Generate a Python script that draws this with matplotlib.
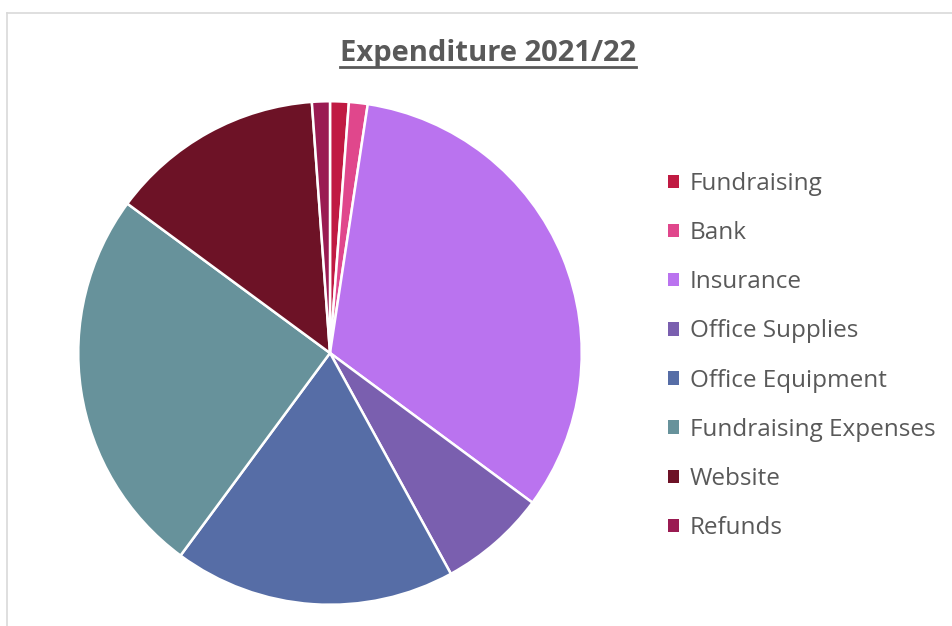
import matplotlib
matplotlib.use("Agg")
import matplotlib.pyplot as plt
from matplotlib.lines import Line2D

categories = ["Fundraising", "Bank", "Insurance", "Office Supplies",
              "Office Equipment", "Fundraising Expenses", "Website", "Refunds"]
shares = [1.2, 1.2, 32.75, 6.9, 18.1, 25.0, 13.75, 1.15]
colours = ["#C01A42", "#E0478C", "#BA73EF", "#7A5FAF",
           "#566DA6", "#67929B", "#6D1226", "#9A1B52"]

plt.rcParams["font.family"] = ["Open Sans", "DejaVu Sans"]

W, H = 953, 626
fig = plt.figure(figsize=(W / 100, H / 100), dpi=100)

# pie area: centre (330, 353), radius 253 px
cx, cy, r = 330, 353, 253
ax = fig.add_axes([(cx - r) / W, (H - cy - r) / H, 2 * r / W, 2 * r / H])
wedges, _ = ax.pie(shares, colors=colours, startangle=90, counterclock=False,
                   radius=1.0,
                   wedgeprops=dict(edgecolor="white", linewidth=1.8))
ax.set_xlim(-1.005, 1.005)
ax.set_ylim(-1.005, 1.005)
ax.set_aspect("equal")
ax.axis("off")

# chart frame (top and left edges)
fig.add_artist(Line2D([7.5 / W, 7.5 / W], [0, 1 - 12.5 / H], color="#d9d9d9",
                      lw=1.2, transform=fig.transFigure))
fig.add_artist(Line2D([7.5 / W, 1], [1 - 12.5 / H, 1 - 12.5 / H], color="#d9d9d9",
                      lw=1.2, transform=fig.transFigure))

# title with underline
title = fig.text(488 / W, 1 - 53 / H, "Expenditure 2021/22", ha="center", va="center",
                 fontsize=21, fontweight="bold", color="#595959")
fig.canvas.draw()
bb = title.get_window_extent(fig.canvas.get_renderer())
uy = (bb.y0 + 1) / H
fig.add_artist(Line2D([bb.x0 / W, bb.x1 / W], [uy, uy], color="#595959", lw=2.0,
                      transform=fig.transFigure))

leg = fig.legend(wedges, categories, loc="upper left",
                 bbox_to_anchor=(668 / W, 1 - 172 / H), frameon=False,
                 fontsize=17.5, labelcolor="#595959", handlelength=0.47,
                 handleheight=0.47, handletextpad=0.42, labelspacing=1.035,
                 borderaxespad=0, borderpad=0)
for h in leg.legend_handles:
    h.set_edgecolor("none")

fig.savefig("out.png", dpi=100)
